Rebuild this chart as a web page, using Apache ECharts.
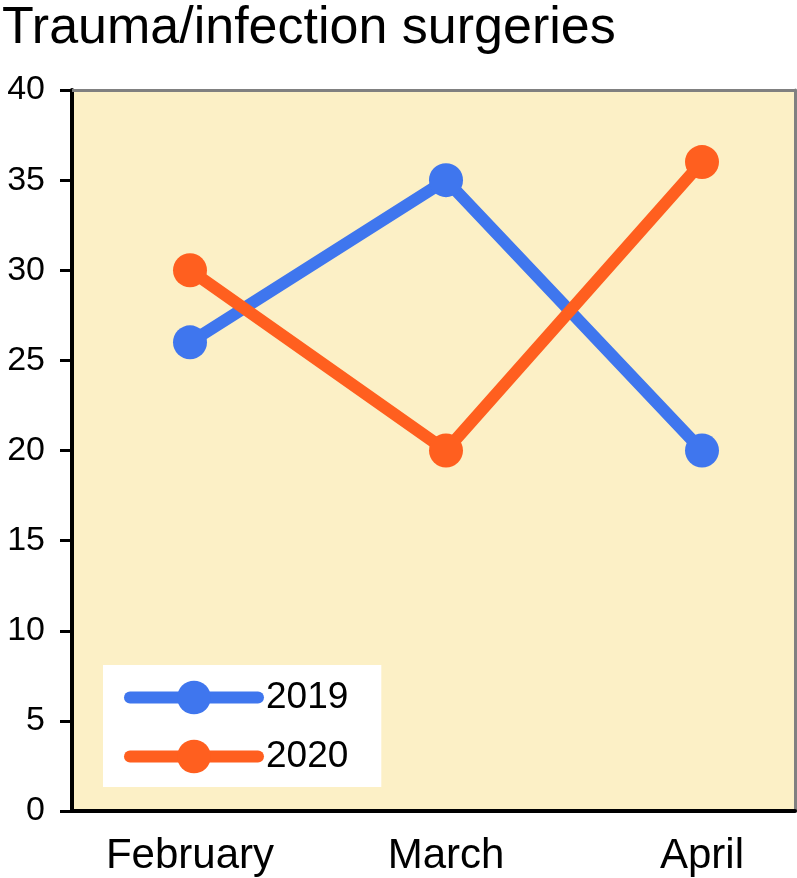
<!DOCTYPE html>
<html><head><meta charset="utf-8">
<script src="https://cdn.jsdelivr.net/npm/echarts@6/dist/echarts.min.js"></script>
<style>html,body{margin:0;padding:0;background:#fff}#c{width:797px;height:878px}</style>
</head><body><div id="c"></div>
<script>
const titleText = 'Trauma/infection surgeries';
const months = ['February', 'March', 'April'];
const s2019 = [26, 35, 20];
const s2020 = [30, 20, 36];
const seriesNames = ['2019', '2020'];
const colors = ['#3f76ee', '#ff5f1f'];
const yMin = 0, yMax = 40, yStep = 5;

const font = '"Liberation Sans", Arial, Helvetica, sans-serif';
const chart = echarts.init(document.getElementById('c'), null, {renderer: 'canvas'});
const gridPos = {top: 90, bottom: 67};
chart.setOption({
  animation: false,
  textStyle: {fontFamily: font},
  title: {text: titleText, left: 2, top: 3, padding: 0,
    textStyle: {fontFamily: font, fontSize: 52, fontWeight: 'normal', color: '#000'}},
  grid: [
    {left: 72, right: 2, top: gridPos.top, bottom: gridPos.bottom, show: true, backgroundColor: '#fcf0c6', borderWidth: 0},
    {left: 190, right: 95, top: gridPos.top, bottom: gridPos.bottom}
  ],
  xAxis: [
    {gridIndex: 0, type: 'value', min: 0, max: 1, position: 'bottom',
      axisLine: {show: true, onZero: false, lineStyle: {color: '#000', width: 4}}, axisTick: {show: false}, axisLabel: {show: false}, splitLine: {show: false}},
    {gridIndex: 0, type: 'value', min: 0, max: 1, position: 'top',
      axisLine: {show: true, onZero: false, lineStyle: {color: '#808080', width: 3}}, axisTick: {show: false}, axisLabel: {show: false}, splitLine: {show: false}},
    {gridIndex: 1, type: 'category', data: months, boundaryGap: false,
      axisLine: {show: false}, axisTick: {show: false},
      axisLabel: {margin: 24, fontSize: 42, color: '#000', fontFamily: font}}
  ],
  yAxis: [
    {gridIndex: 0, type: 'value', min: yMin, max: yMax, interval: yStep, position: 'left',
      axisLine: {show: true, onZero: false, lineStyle: {color: '#000', width: 4}},
      axisTick: {show: true, length: 12, lineStyle: {color: '#000', width: 3}},
      axisLabel: {margin: 27, fontSize: 34, color: '#000', fontFamily: font},
      splitLine: {show: false}},
    {gridIndex: 0, type: 'value', min: yMin, max: yMax, position: 'right',
      axisLine: {show: true, onZero: false, lineStyle: {color: '#808080', width: 3}}, axisTick: {show: false}, axisLabel: {show: false}, splitLine: {show: false}},
    {gridIndex: 1, type: 'value', min: yMin, max: yMax, show: false}
  ],
  legend: {
    orient: 'vertical', left: 103, top: 665,
    backgroundColor: '#ffffff',
    padding: [14, 33, 12, 21],
    itemWidth: 128, itemHeight: 42, itemGap: 22,
    lineStyle: {width: 12, cap: 'round'},
    textStyle: {fontSize: 37, color: '#000', fontFamily: font, padding: [0, 0, 0, 3]},
    data: seriesNames
  },
  series: [
    {name: seriesNames[0], type: 'line', xAxisIndex: 2, yAxisIndex: 2, data: s2019,
      symbol: 'circle', symbolSize: 34, color: colors[0],
      lineStyle: {width: 12, color: colors[0]}, itemStyle: {color: colors[0]}},
    {name: seriesNames[1], type: 'line', xAxisIndex: 2, yAxisIndex: 2, data: s2020,
      symbol: 'circle', symbolSize: 34, color: colors[1],
      lineStyle: {width: 12, color: colors[1]}, itemStyle: {color: colors[1]}}
  ]
});
</script></body></html>
